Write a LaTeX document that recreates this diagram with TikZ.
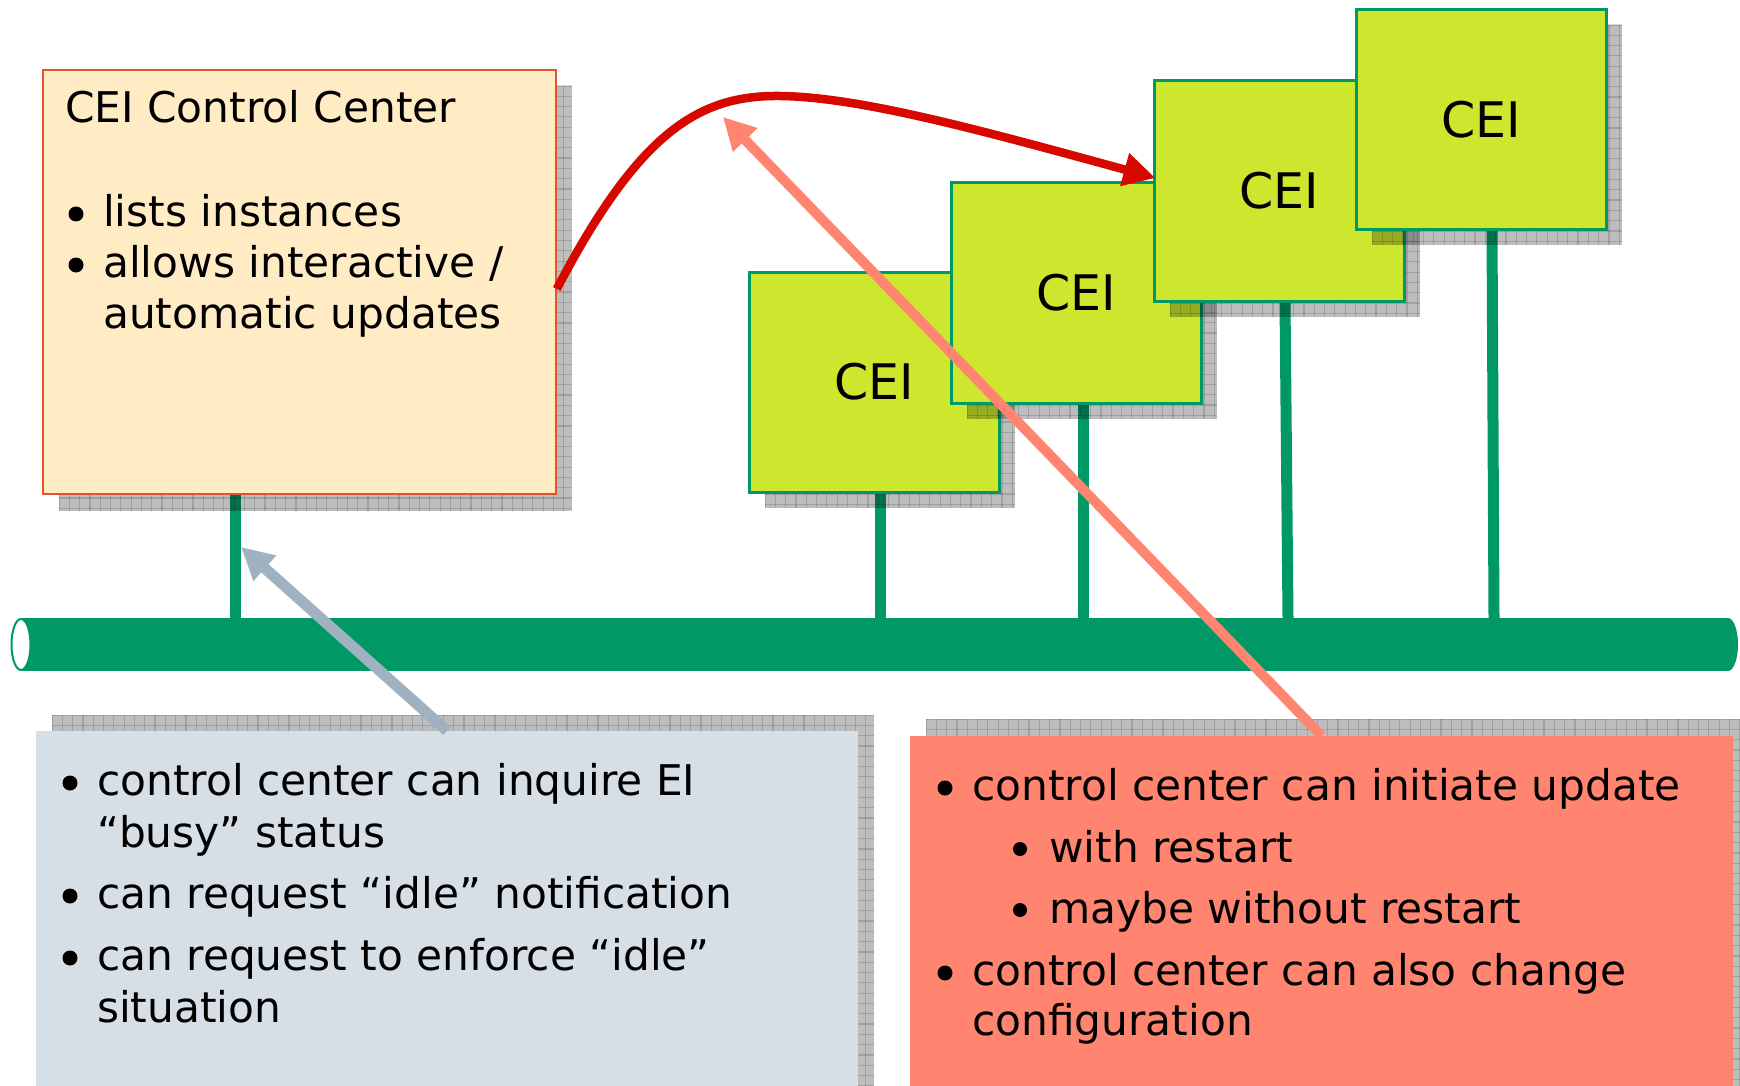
\documentclass[tikz,border=0pt]{standalone}
\usepackage{fontspec}
\setmainfont{DejaVu Sans}
\usetikzlibrary{arrows.meta}

\definecolor{pipegreen}{RGB}{0,153,102}
\definecolor{ceifill}{RGB}{205,231,46}
\definecolor{ccfill}{RGB}{255,235,196}
\definecolor{ccborder}{RGB}{226,84,44}
\definecolor{infofill}{RGB}{214,222,230}
\definecolor{salmon}{RGB}{255,133,112}
\definecolor{updred}{RGB}{214,8,0}
\definecolor{inqgray}{RGB}{160,178,194}

\newcommand\txtfont{\fontsize{42.3}{51}\selectfont}
\newcommand\ceilabelfont{\fontsize{49}{59}\selectfont}

% hatched drop shadow: translucent fill with a coarse grid on top
\newcommand\dropshadow[4]{%
  \begin{scope}
    \clip (#1,#2) rectangle (#3,#4);
    \fill[shadowfill] (#1,#2) rectangle (#3,#4);
    \pgfmathsetmacro\gxs{#1+10.3}
    \pgfmathsetmacro\gys{#2+10.3}
    \foreach \gx in {#1,\gxs,...,#3} \draw[shadowgrid] (\gx,#2) -- (\gx,#4);
    \foreach \gy in {#2,\gys,...,#4} \draw[shadowgrid] (#1,\gy) -- (#3,\gy);
  \end{scope}}

\tikzset{
  shadowfill/.style={fill=black, opacity=0.26},
  shadowgrid/.style={draw=black, opacity=0.15, line width=1.2},
  ceibox/.style={draw=pipegreen, fill=ceifill, line width=3,
    minimum width=250, minimum height=220, inner sep=0, font=\ceilabelfont},
  ccbox/.style={draw=ccborder, fill=ccfill, line width=1.5,
    minimum width=513, minimum height=424, inner sep=0},
  infobox/.style={fill=infofill, minimum width=822, minimum height=355, inner sep=0},
  updbox/.style={fill=salmon, minimum width=823, minimum height=350, inner sep=0},
  pipebody/.style={fill=pipegreen, minimum width=1707, minimum height=53, inner sep=0},
  stem/.style={draw=pipegreen, line width=11},
  lbl/.style={anchor=base west, inner sep=0, font=\txtfont},
  dot/.style={circle, fill=black, inner sep=0, minimum size=15},
  subdot/.style={circle, fill=black, inner sep=0, minimum size=14},
  updarrow/.style={draw=updred, line width=8.5, -{Triangle[length=32pt,width=32pt]}},
  initarrow/.style={draw=salmon, line width=10, -{Triangle[length=32pt,width=32pt]}},
  inqarrow/.style={draw=inqgray, line width=11, -{Triangle[length=32pt,width=32pt]}},
}

\begin{document}
\begin{tikzpicture}[x=1pt, y=-1pt]
\useasboundingbox (0,0) rectangle (1740,1086);

% the bus
\node[pipebody] (pipe) at (874.5,644.5) {};
\fill[pipegreen] (1728,644.5) ellipse [x radius=10, y radius=26.5];
\filldraw[fill=white, draw=pipegreen, line width=2] (21,644.5) ellipse [x radius=9.5, y radius=25.5];

% stems (drawn before the boxes so the shadows fall over them)
\coordinate (ccfoot) at (235.5,494);
\draw[stem] (ccfoot) -- (ccfoot |- pipe.north);
\coordinate (s1) at (880,492);
\coordinate (s2) at (1083,403);
\coordinate (s3) at (1285,301);
\coordinate (s4) at (1492,230);
\draw[stem] (s1) -- (s1 |- pipe.north);
\draw[stem] (s2) -- (s2 |- pipe.north);
\draw[stem] (s3) -- ([xshift=3pt]s3 |- pipe.north);
\draw[stem] (s4) -- ([xshift=2pt]s4 |- pipe.north);

% control center
\dropshadow{59}{86}{572}{511}
\node[ccbox] (cc) at (299.5,282) {};

% CEI instances
\dropshadow{765}{288}{1015}{508}
\node[ceibox] (cei1) at (874,382) {CEI};
\dropshadow{967}{199}{1217}{419}
\node[ceibox] (cei2) at (1076,293) {CEI};
\dropshadow{1170}{97}{1420}{317}
\node[ceibox] (cei3) at (1279,191) {CEI};
\dropshadow{1372}{25}{1622}{245}
\node[ceibox] (cei4) at (1481.5,119.5) {CEI};

% note boxes
\dropshadow{52}{715}{874}{1086}
\node[infobox] (info) at (447,908.5) {};
\dropshadow{926}{719}{1740}{1086}
\node[updbox] (upd) at (1321.5,911) {};

% arrows
\draw[updarrow] ([yshift=-7pt]cc.east) .. controls (640,130) and (700,95) .. (780,96)
  .. controls (860,97) and (980,130) .. ([yshift=13pt,xshift=3pt]cei3.west);
\coordinate (inittip) at (723,117);
\draw[initarrow] (upd.north) -- (inittip);
\coordinate (inqtip) at (241,547);
\draw[inqarrow] (info.north) -- (inqtip);

% control center text
\node[lbl] (cctitle) at (65,123) {CEI Control Center};
\node[dot] (ccb1) at (76,214) {};
\node[lbl] (cct1) at (103,226) {lists instances};
\node[dot] (ccb2) at (76,265) {};
\node[lbl] (cct2) at (103,277) {allows interactive /};
\node[lbl] (cct3) at (103,328) {automatic updates};

% inquiry notes
\node[dot] (ib1) at (70,783) {};
\node[lbl] (it1) at (97,795) {control center can inquire EI};
\node[lbl] (it2) at (97,847) {“busy” status};
\node[dot] (ib2) at (70,896) {};
\node[lbl] (it3) at (97,908) {can request “idle” notification};
\node[dot] (ib3) at (70,958) {};
\node[lbl] (it4) at (97,970) {can request to enforce “idle”};
\node[lbl] (it5) at (97,1022) {situation};

% update notes
\node[dot] (ub1) at (945,788) {};
\node[lbl] (ut1) at (972,800) {control center can initiate update};
\node[subdot] (ub2) at (1020,849) {};
\node[lbl] (ut2) at (1049,862) {with restart};
\node[subdot] (ub3) at (1020,910) {};
\node[lbl] (ut3) at (1049,923) {maybe without restart};
\node[dot] (ub4) at (945,973) {};
\node[lbl] (ut4) at (972,985) {control center can also change};
\node[lbl] (ut5) at (972,1035) {configuration};
\end{tikzpicture}
\end{document}
